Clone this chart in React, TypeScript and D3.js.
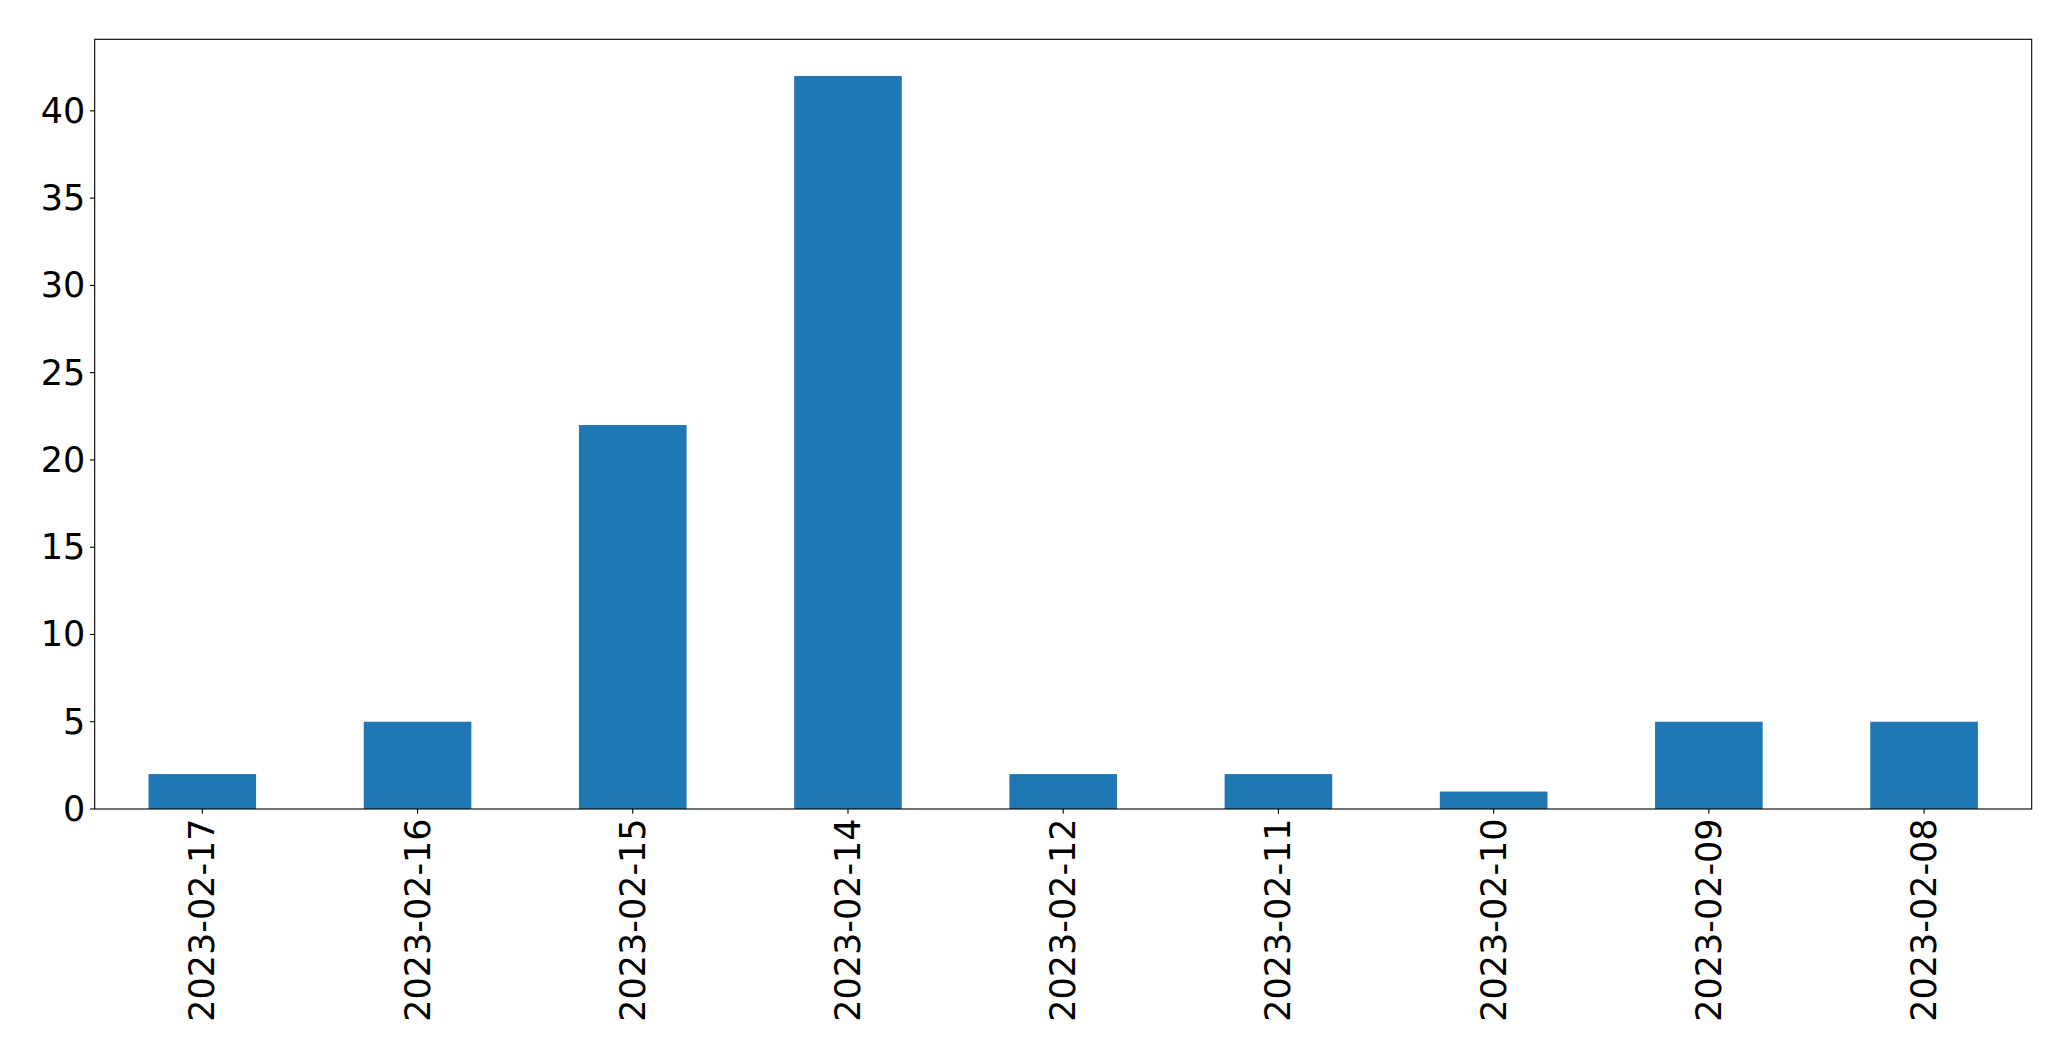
import React from "react";
import * as d3 from "d3";

const categories = ["2023-02-17","2023-02-16","2023-02-15","2023-02-14","2023-02-12","2023-02-11","2023-02-10","2023-02-09","2023-02-08"];
const values = [2, 5, 22, 42, 2, 2, 1, 5, 5];
const yTicks = [0, 5, 10, 15, 20, 25, 30, 35, 40];

export default function App() {
  const W = 2071, H = 1061;
  const left = 94.7, right = 2031.7, top = 39.3, bottom = 809;
  const x = d3.scaleBand<string>().domain(categories).range([left, right]).paddingInner(0.5).paddingOuter(0.25);
  const y = d3.scaleLinear().domain([0, 42 * 1.05]).range([bottom, top]);
  const fs = 35;
  const tick = 4.7;
  return (
    <svg width={W} height={H} style={{ position: "absolute", left: 0, top: 0, background: "#fff" }}
      fontFamily="DejaVu Sans">
      {categories.map((c, i) => (
        <rect key={c} x={x(c)} y={y(values[i])} width={x.bandwidth()} height={bottom - y(values[i])} fill="#1f77b4" />
      ))}
      <rect x={left} y={top} width={right - left} height={bottom - top} fill="none" stroke="#000" strokeWidth={1.1} />
      {yTicks.map(t => (
        <g key={t}>
          <line x1={left - tick} x2={left} y1={y(t)} y2={y(t)} stroke="#000" strokeWidth={1.1} />
          <text x={left - tick - 4.7} y={y(t)} textAnchor="end" dominantBaseline="central" fontSize={fs} fill="#000">{t}</text>
        </g>
      ))}
      {categories.map(c => {
        const cx = x(c)! + x.bandwidth() / 2;
        return (
          <g key={c}>
            <line x1={cx} x2={cx} y1={bottom} y2={bottom + tick} stroke="#000" strokeWidth={1.1} />
            <text transform={`translate(${cx},${bottom + tick + 4.7}) rotate(-90)`} textAnchor="end" dominantBaseline="central" fontSize={fs} fill="#000">{c}</text>
          </g>
        );
      })}
    </svg>
  );
}
